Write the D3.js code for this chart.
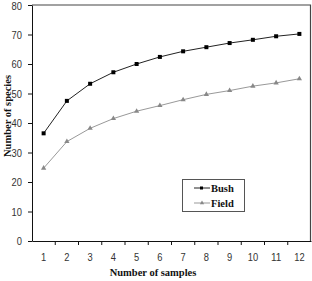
<!DOCTYPE html>
<html lang="en">
<head>
    <meta charset="UTF-8">
    <title>Species accumulation</title>
    <script src="https://d3js.org/d3.v7.min.js"></script>
    <style>
        body { margin: 0; background: #fff; }
        .tick text { font-family: "Liberation Sans", Arial, sans-serif; font-size: 11.5px; fill: #333; }
        .title { font-family: "Liberation Serif", "Times New Roman", serif; font-weight: bold; font-size: 10.5px; fill: #111; }
    </style>
</head>
<body>
    <svg id="chart"></svg>

    <script>
        const samples = ["1", "2", "3", "4", "5", "6", "7", "8", "9", "10", "11", "12"];
        const bush = [36.5, 47.5, 53.3, 57.2, 60.0, 62.4, 64.3, 65.7, 67.1, 68.2, 69.4, 70.2];
        const field = [24.7, 33.7, 38.2, 41.5, 44.0, 45.9, 47.9, 49.7, 51.0, 52.5, 53.6, 55.0];
        const yTicks = [0, 10, 20, 30, 40, 50, 60, 70, 80];

        const width = 312, height = 281;
        const margin = { top: 5, right: 1, bottom: 40, left: 32 };

        const svg = d3.select("#chart")
            .attr("width", width)
            .attr("height", height);

        const x = d3.scaleBand()
            .domain(samples)
            .range([margin.left, width - margin.right]);

        const y = d3.scaleLinear()
            .domain([0, 80])
            .range([height - margin.bottom, margin.top]);

        // frame (top and right)
        svg.append("path")
            .attr("d", `M${margin.left},${margin.top}H${width - margin.right - 0.5}V${height - margin.bottom}`)
            .attr("fill", "none")
            .attr("stroke", "#444")
            .attr("stroke-width", 1.2);

        // narrow digits like the original
        function narrow(sel) {
            sel.selectAll(".tick text")
                .attr("textLength", function() { return this.textContent.length * 5.2; })
                .attr("lengthAdjust", "spacingAndGlyphs");
        }

        // x axis
        const xAxis = svg.append("g")
            .attr("transform", `translate(0,${height - margin.bottom})`)
            .call(d3.axisBottom(x).tickSize(0).tickPadding(12));
        xAxis.select(".domain").attr("stroke", "#111");
        narrow(xAxis);
        // tick marks at category boundaries
        xAxis.selectAll(".bound")
            .data(samples.slice(1))
            .join("line")
            .attr("class", "bound")
            .attr("x1", d => x(d))
            .attr("x2", d => x(d))
            .attr("y1", 0)
            .attr("y2", 4)
            .attr("stroke", "#111");

        // y axis
        const yAxis = svg.append("g")
            .attr("transform", `translate(${margin.left},0)`)
            .call(d3.axisLeft(y).tickValues(yTicks).tickSize(4).tickPadding(6).tickSizeOuter(0));
        yAxis.select(".domain").attr("stroke", "#111");
        yAxis.selectAll(".tick line").attr("stroke", "#111");
        narrow(yAxis);
        yAxis.selectAll(".tick text").filter(d => d === 80).attr("dy", "0.4em");

        const line = d3.line()
            .x((d, i) => x(samples[i]) + x.bandwidth() / 2)
            .y(d => y(d));

        svg.append("path")
            .datum(field)
            .attr("d", line)
            .attr("fill", "none")
            .attr("stroke", "#999")
            .attr("stroke-width", 1);

        svg.append("path")
            .datum(bush)
            .attr("d", line)
            .attr("fill", "none")
            .attr("stroke", "#222")
            .attr("stroke-width", 1);

        const tri = d3.symbol().type(d3.symbolTriangle).size(12);

        svg.selectAll(".field-pt")
            .data(field)
            .join("path")
            .attr("class", "field-pt")
            .attr("d", tri)
            .attr("transform", (d, i) => `translate(${x(samples[i]) + x.bandwidth() / 2},${y(d)})`)
            .attr("fill", "#888");

        svg.selectAll(".bush-pt")
            .data(bush)
            .join("rect")
            .attr("class", "bush-pt")
            .attr("x", (d, i) => x(samples[i]) + x.bandwidth() / 2 - 2)
            .attr("y", d => y(d) - 2)
            .attr("width", 4)
            .attr("height", 4)
            .attr("fill", "#000");

        // axis titles
        svg.append("text")
            .attr("class", "title")
            .attr("x", 153)
            .attr("y", 276)
            .attr("text-anchor", "middle")
            .text("Number of samples");

        svg.append("text")
            .attr("class", "title")
            .attr("text-anchor", "middle")
            .attr("transform", "translate(11,116) rotate(-90)")
            .text("Number of species");

        // legend
        const legend = svg.append("g").attr("transform", "translate(182,179)");
        legend.append("rect")
            .attr("x", 0.5).attr("y", 0.5)
            .attr("width", 62).attr("height", 32)
            .attr("fill", "#fff")
            .attr("stroke", "#555");

        const items = [
            { name: "Bush", color: "#222" },
            { name: "Field", color: "#999" }
        ];
        const li = legend.selectAll(".legend-item")
            .data(items)
            .join("g")
            .attr("class", "legend-item")
            .attr("transform", (d, i) => `translate(0,${9 + i * 15})`);

        li.append("line")
            .attr("x1", 12).attr("x2", 28)
            .attr("y1", 0).attr("y2", 0)
            .attr("stroke", d => d.color);

        li.filter((d, i) => i === 0).append("rect")
            .attr("x", 18).attr("y", -1.5).attr("width", 3).attr("height", 3)
            .attr("fill", "#000");
        li.filter((d, i) => i === 1).append("path")
            .attr("d", d3.symbol().type(d3.symbolTriangle).size(8))
            .attr("transform", "translate(20,0)")
            .attr("fill", "#888");

        li.append("text")
            .attr("class", "title")
            .attr("x", 29)
            .attr("y", 3.5)
            .text(d => d.name);
    </script>
</body>
</html>
